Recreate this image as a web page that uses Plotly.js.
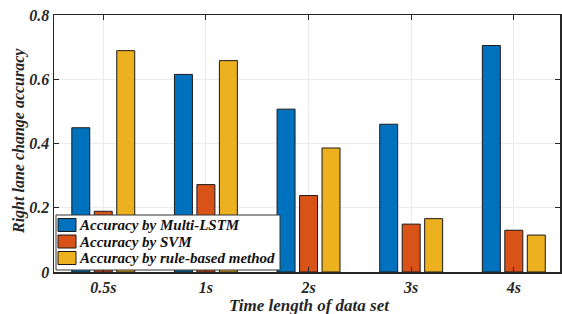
<!DOCTYPE html>
<html><head><meta charset="utf-8">
<script src="https://cdn.plot.ly/plotly-3.0.1.min.js"></script>
<style>body{margin:0;padding:0;background:#fff}#chart{width:562px;height:314px}</style>
</head><body><div id="chart"></div>
<script>
const categories = ["0.5s", "1s", "2s", "3s", "4s"];
const lstm = [0.449, 0.615, 0.507, 0.460, 0.705];
const svm = [0.189, 0.272, 0.238, 0.149, 0.130];
const rule = [0.689, 0.658, 0.386, 0.166, 0.115];
const names = ["Accuracy by Multi-LSTM", "Accuracy by SVM", "Accuracy by rule-based method"];
const colors = ["#0072BD", "#D95319", "#EDB120"];
const yTicks = [0, 0.2, 0.4, 0.6, 0.8];
const yTickText = ["0", "0.2", "0.4", "0.6", "0.8"];
const xTitle = "Time length of data set";
const yTitle = "Right lane change accuracy";

const FAM = "Liberation Serif";
const ink = "#262626";
const W = 562, H = 314, ML = 54, MR = 2, MT = 15, MB = 42;
const PW = W - ML - MR, PH = H - MT - MB;
const px2x = p => (p - ML) / PW;
const px2y = p => (H - MB - p) / PH;

const idx = categories.map((c, i) => i);
const series = [lstm, svm, rule];
const traces = series.map((s, k) => ({
  type: "bar", x: idx, y: s, name: names[k], showlegend: false,
  marker: {color: colors[k], line: {color: "#1a1a1a", width: 1}}
}));

// manual compact legend (MATLAB style)
const shapes = [{
  type: "rect", xref: "paper", yref: "paper",
  x0: px2x(56), x1: px2x(280), y0: px2y(270), y1: px2y(215),
  fillcolor: "#fff", line: {color: "#333", width: 1}, layer: "above"
}];
const annotations = [];
const rowY = [225, 241.5, 258];
names.forEach((n, k) => {
  shapes.push({
    type: "rect", xref: "paper", yref: "paper",
    x0: px2x(58), x1: px2x(76), y0: px2y(rowY[k] + 6.5), y1: px2y(rowY[k] - 6.5),
    fillcolor: colors[k], line: {color: "#1a1a1a", width: 1}, layer: "above"
  });
  annotations.push({
    xref: "paper", yref: "paper", x: px2x(77), y: px2y(rowY[k]),
    xanchor: "left", yanchor: "middle", showarrow: false,
    text: "<b><i>" + n + "</i></b>",
    font: {family: FAM, size: 15, color: "#111"}
  });
});
// axis titles
annotations.push({
  xref: "paper", yref: "paper", x: px2x(309), y: px2y(305),
  xanchor: "center", yanchor: "middle", showarrow: false,
  text: "<b><i>" + xTitle + "</i></b>", font: {family: FAM, size: 17, color: ink}
});
annotations.push({
  xref: "paper", yref: "paper", x: px2x(19), y: px2y(141),
  xanchor: "center", yanchor: "middle", showarrow: false, textangle: -90,
  text: "<b><i>" + yTitle + "</i></b>", font: {family: FAM, size: 16, color: ink}
});

const axisCommon = {
  ticks: "inside", ticklen: 5, tickcolor: ink, showline: true, linecolor: ink, linewidth: 1.5,
  mirror: "ticks", showgrid: true, gridcolor: "#ebebeb", zeroline: false,
  tickfont: {size: 16, family: FAM, color: ink}
};
const layout = {
  width: W, height: H,
  margin: {l: ML, r: MR, t: MT, b: MB},
  barmode: "group", bargap: 0.343, bargroupgap: 0.2,
  paper_bgcolor: "#fff", plot_bgcolor: "#fff",
  font: {family: FAM, color: ink},
  xaxis: Object.assign({}, axisCommon, {
    range: [-0.48, 4.45], tickvals: idx, ticktext: categories.map(c => "<b><i>" + c + "</i></b>")
  }),
  yaxis: Object.assign({}, axisCommon, {
    range: [0, 0.8], tickvals: yTicks, ticktext: yTickText.map(t => "<b><i>" + t + "</i></b>")
  }),
  showlegend: false,
  shapes: shapes,
  annotations: annotations
};
Plotly.newPlot("chart", traces, layout, {displayModeBar: false, staticPlot: true});
</script></body></html>
